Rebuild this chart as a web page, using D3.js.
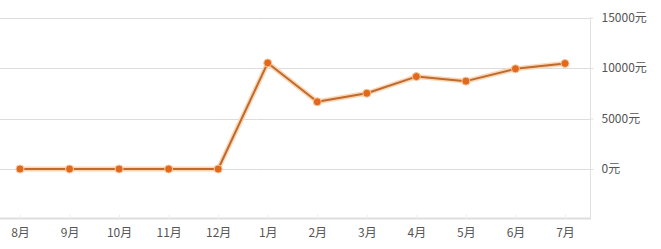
<!DOCTYPE html>
<html>
<head>
<meta charset="utf-8">
<script src="https://cdn.jsdelivr.net/npm/d3@7"></script>
<style>
  body { margin: 0; background: #fff; }
  text { font-family: "Noto Sans CJK SC", "DejaVu Sans", sans-serif; }
</style>
</head>
<body>
<svg width="661" height="249"></svg>
<script>
const svg = d3.select("svg"),
  width = +svg.attr("width"),
  height = +svg.attr("height");

// Data
const months = ["8月", "9月", "10月", "11月", "12月", "1月", "2月", "3月", "4月", "5月", "6月", "7月"];
const prices = [0, 0, 0, 0, 0, 10500, 6650, 7500, 9150, 8700, 9920, 10450];
const yTicks = [0, 5000, 10000, 15000];

// Scales
const x = d3.scalePoint().domain(months).range([20, 565]);
const y = d3.scaleLinear().domain([-5000, 15000]).range([219.5, 17.5]);

const plotRight = 590;

// Grid lines
svg.append("g")
  .selectAll("line")
  .data(yTicks)
  .join("line")
  .attr("x1", 0)
  .attr("x2", plotRight)
  .attr("y1", d => Math.round(y(d)) + 0.5)
  .attr("y2", d => Math.round(y(d)) + 0.5)
  .attr("stroke", "#dcdcdc");

// Right axis
const yAxis = svg.append("g")
  .attr("transform", `translate(${plotRight + 0.5},0)`)
  .call(d3.axisRight(y).tickValues(yTicks).tickSize(3).tickPadding(8).tickFormat(d => d + "元"));
yAxis.select(".domain").attr("stroke", "#e0e0e0").attr("d", `M0,${y(15000)}V${y(-5000)}`);
yAxis.selectAll(".tick line").attr("stroke", "#e0e0e0");
yAxis.selectAll("text").attr("fill", "#555").style("font-size", "12px");

// Bottom axis
const xAxis = svg.append("g")
  .attr("transform", `translate(0,${y(-5000) - 1})`)
  .call(d3.axisBottom(x).tickSize(-4).tickPadding(10));
xAxis.select(".domain").attr("stroke", "#dedede").attr("stroke-width", 2)
  .attr("d", `M0,0H${plotRight}`);
xAxis.selectAll(".tick line").attr("stroke", "#eee");
xAxis.selectAll("text").attr("fill", "#555").style("font-size", "12px");

// Line with glow
const line = d3.line()
  .x((d, i) => x(months[i]))
  .y(d => y(d));

svg.append("path")
  .datum(prices)
  .attr("d", line)
  .attr("fill", "none")
  .attr("stroke", "#fbd6b4")
  .attr("stroke-width", 5)
  .attr("stroke-linejoin", "round");

svg.append("path")
  .datum(prices)
  .attr("d", line)
  .attr("fill", "none")
  .attr("stroke", "#bf6a2e")
  .attr("stroke-width", 2)
  .attr("stroke-linejoin", "round");

// Points
svg.append("g")
  .selectAll("circle")
  .data(prices)
  .join("circle")
  .attr("cx", (d, i) => x(months[i]))
  .attr("cy", d => y(d))
  .attr("r", 4)
  .attr("fill", "#e2691c")
  .attr("stroke", "#f7c79c")
  .attr("stroke-width", 1);
</script>
</body>
</html>
